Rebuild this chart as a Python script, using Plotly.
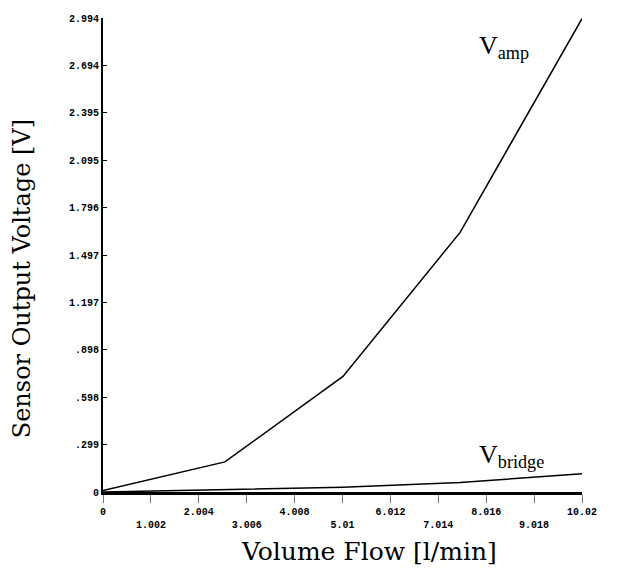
import plotly.graph_objects as go

flow = [0, 2.55, 5.02, 7.47, 10.02]
v_amp = [0.01, 0.19, 0.73, 1.64, 2.99]
v_bridge = [0.0, 0.015, 0.03, 0.06, 0.115]

x_ticks = [0, 1.002, 2.004, 3.006, 4.008, 5.01, 6.012, 7.014, 8.016, 9.018, 10.02]
x_labels = ["0", "1.002", "2.004", "3.006", "4.008", "5.01", "6.012", "7.014", "8.016", "9.018", "10.02"]
y_ticks = [0, 0.299, 0.598, 0.898, 1.197, 1.497, 1.796, 2.095, 2.395, 2.694, 2.994]
y_labels = ["0", ".299", ".598", ".898", "1.197", "1.497", "1.796", "2.095", "2.395", "2.694", "2.994"]

x_text = [lab if i % 2 == 0 else "<br>" + lab for i, lab in enumerate(x_labels)]

fig = go.Figure()
fig.add_trace(go.Scatter(x=flow, y=v_amp, mode="lines", line=dict(color="black", width=1.5), showlegend=False))
fig.add_trace(go.Scatter(x=flow, y=v_bridge, mode="lines", line=dict(color="black", width=1.5), showlegend=False))

tickfont = dict(family="Liberation Mono, Courier New, monospace", size=10, color="black", weight="bold")
serif = "DejaVu Serif, Liberation Serif, serif"

fig.update_layout(
    width=624, height=560,
    margin=dict(l=95, r=50, t=5, b=76),
    paper_bgcolor="white", plot_bgcolor="white",
    xaxis=dict(range=[0, 10.02], tickvals=x_ticks, ticktext=x_text, tickfont=tickfont,
               showgrid=False, zeroline=False, showline=True, linecolor="black", linewidth=3,
               ticks="outside", ticklen=8, tickcolor="#777", tickwidth=1),
    yaxis=dict(range=[0, 2.994], tickvals=y_ticks, ticktext=y_labels, tickfont=tickfont,
               showgrid=False, zeroline=False, showline=True, linecolor="black", linewidth=2,
               ticks="inside", ticklen=4, tickcolor="black", tickwidth=1),
    annotations=[
        dict(text="Volume Flow [l/min]", xref="paper", yref="paper", x=0.555, y=-0.09,
             xanchor="center", yanchor="top", showarrow=False,
             font=dict(family=serif, size=25, color="black")),
        dict(text="Sensor Output Voltage [V]", xref="paper", yref="paper", x=-0.17, y=0.45,
             xanchor="center", yanchor="middle", textangle=-90, showarrow=False,
             font=dict(family=serif, size=24, color="black")),
        dict(text="V<sub>amp</sub>", x=7.82, y=2.81, xref="x", yref="y", xanchor="left", showarrow=False,
             font=dict(family="Liberation Serif, Times New Roman, serif", size=26, color="black")),
        dict(text="V<sub>bridge</sub>", x=7.82, y=0.23, xref="x", yref="y", xanchor="left", showarrow=False,
             font=dict(family="Liberation Serif, Times New Roman, serif", size=26, color="black")),
    ],
)

fig.write_html("out.html")
